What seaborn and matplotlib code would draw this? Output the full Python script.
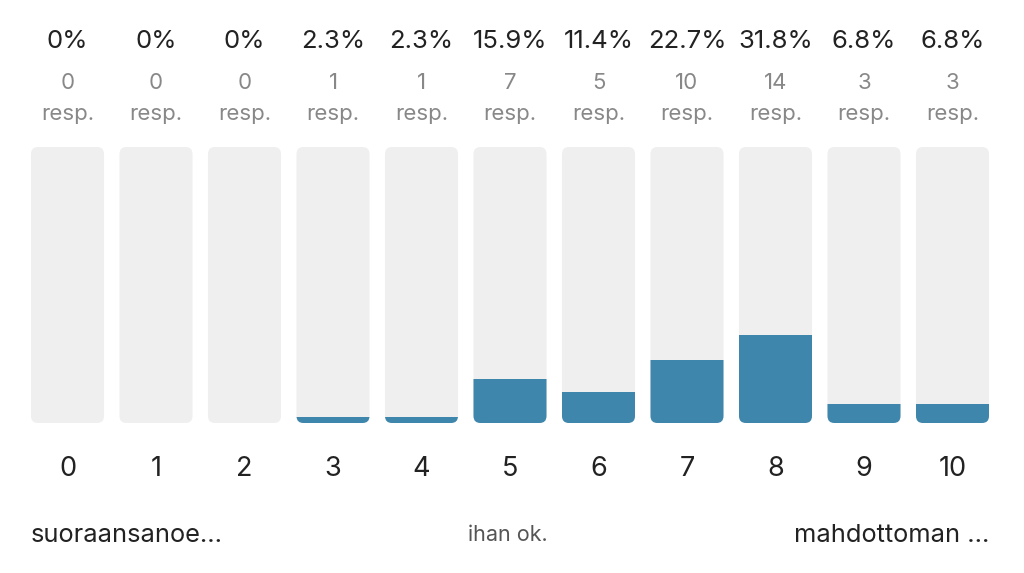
import seaborn as sns
import matplotlib.pyplot as plt
from matplotlib.patches import FancyBboxPatch

# survey answers on a 0-10 scale
scores = ["0", "1", "2", "3", "4", "5", "6", "7", "8", "9", "10"]
percents = [0, 0, 0, 2.3, 2.3, 15.9, 11.4, 22.7, 31.8, 6.8, 6.8]
counts = [0, 0, 0, 1, 1, 7, 5, 10, 14, 3, 3]
track = [100] * len(scores)
low_label = "suoraansanoe..."
mid_label = "ihan ok."
high_label = "mahdottoman ..."

GRAY = "#efefef"
BLUE = "#3e86ac"
DARK = "#222222"
MUTED = "#888888"

sns.set_theme(style="white")
plt.rcParams["font.family"] = ["Inter", "DejaVu Sans"]

W, H = 1024, 573
fig = plt.figure(figsize=(W / 100, H / 100), dpi=100)
ax_l, ax_b, ax_w, ax_h = 23.25, 150, 973.5, 276
ax = fig.add_axes([ax_l / W, ax_b / H, ax_w / W, ax_h / H])

sns.barplot(x=scores, y=track, color=GRAY, saturation=1, width=0.825, ax=ax)
sns.barplot(x=scores, y=percents, color=BLUE, saturation=1, width=0.825, ax=ax)
ax.set_xlim(-0.5, len(scores) - 0.5)
ax.set_ylim(0, 100)

# rounded corners: rebuild gray tracks as rounded boxes and clip the fill to them
n = len(scores)
px_x = ax_w / n
px_y = ax_h / 100
radius = 7 / px_x
tracks = list(ax.patches[:n])
fills = list(ax.patches[n:])
rounded = []
for p, f in zip(tracks, fills):
    rb = FancyBboxPatch((p.get_x(), p.get_y()), p.get_width(), p.get_height(),
                        boxstyle=f"round,pad=0,rounding_size={radius}",
                        mutation_aspect=px_x / px_y,
                        fc=GRAY, ec="none", zorder=0.5)
    p.remove()
    ax.add_patch(rb)
    f.set_clip_path(rb)
    f.set_edgecolor("none")
    f.set_zorder(1)
    rounded.append(rb)

sns.despine(ax=ax, left=True, bottom=True)
ax.set_yticks([])
ax.set_ylabel("")
ax.set_xlabel("")
ax.tick_params(axis="x", length=0, pad=24, labelsize=19.5, labelcolor=DARK)

for i, (pc, c) in enumerate(zip(percents, counts)):
    ax.annotate(f"{pc:g}%", xy=(i, H - 48.5), xycoords=("data", "figure pixels"),
                ha="center", va="baseline", fontsize=18.5, color=DARK)
    ax.annotate(str(c), xy=(i, H - 89), xycoords=("data", "figure pixels"),
                ha="center", va="baseline", fontsize=16, color=MUTED)
    ax.annotate("resp.", xy=(i, H - 120), xycoords=("data", "figure pixels"),
                ha="center", va="baseline", fontsize=16, color=MUTED)

first, last = rounded[0], rounded[-1]
ax.annotate(low_label, xy=(first.get_x(), H - 542), xycoords=("data", "figure pixels"),
            ha="left", va="baseline", fontsize=18.3, color=DARK)
ax.annotate(mid_label, xy=((n - 1) / 2 - 0.03, H - 541), xycoords=("data", "figure pixels"),
            ha="center", va="baseline", fontsize=15.5, color="#555555")
ax.annotate(high_label, xy=(last.get_x() + last.get_width(), H - 542),
            xycoords=("data", "figure pixels"),
            ha="right", va="baseline", fontsize=18.3, color=DARK)

fig.savefig("out.png", dpi=100, facecolor="white")
